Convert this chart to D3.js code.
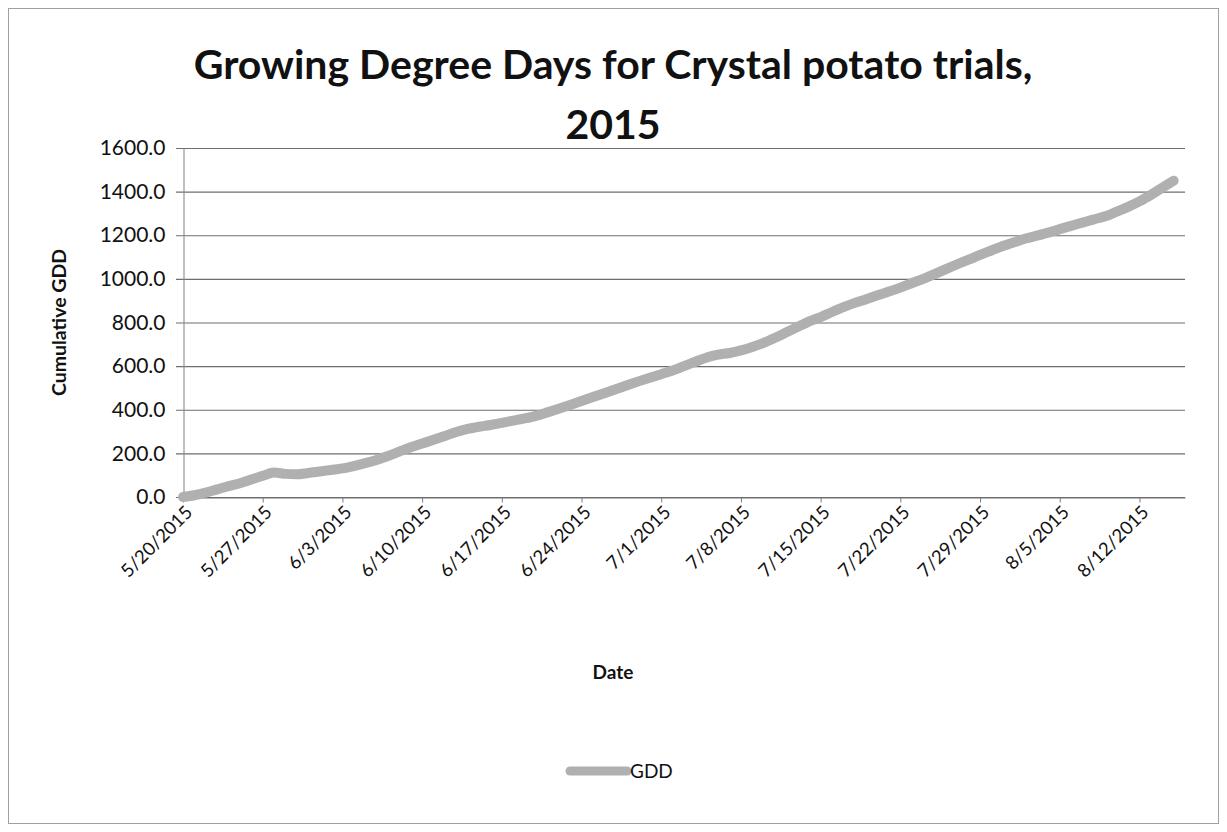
<!DOCTYPE html>
<html><head><meta charset="utf-8">
<script src="https://cdn.jsdelivr.net/npm/d3@7"></script>
<style>
html,body{margin:0;padding:0;background:#fff;}
svg{display:block;}
</style>
</head><body>
<svg id="chart" width="1227" height="832"></svg>
<script>
// ---- DATA ----
const startDate = "2015-05-20";
const endDate = "2015-08-15";
const gdd = [
  0, 8, 20, 35, 50, 63, 80, 97, 112, 106,
  104, 110, 117, 124, 131, 142, 155, 170, 188, 208,
  228, 245, 262, 280, 298, 312, 322, 330, 340, 350,
  360, 372, 388, 405, 422, 440, 458, 476, 494, 512,
  530, 547, 563, 580, 600, 620, 640, 653, 660, 672,
  688, 707, 730, 755, 780, 805, 825, 848, 870, 890,
  907, 925, 942, 960, 980, 1000, 1022, 1045, 1067, 1088,
  1110, 1130, 1151, 1168, 1185, 1198, 1212, 1228, 1243, 1258,
  1273, 1287, 1308, 1330, 1355, 1385, 1418, 1450
];
const xTickLabels = ["5/20/2015","5/27/2015","6/3/2015","6/10/2015","6/17/2015","6/24/2015","7/1/2015","7/8/2015","7/15/2015","7/22/2015","7/29/2015","8/5/2015","8/12/2015"];
const yTicks = [0,200,400,600,800,1000,1200,1400,1600];
const titleLines = ["Growing Degree Days for Crystal potato trials,","2015"];
const yTitle = "Cumulative GDD";
const xTitle = "Date";
const seriesName = "GDD";

// ---- BUILD ----
const parse = d3.timeParse("%Y-%m-%d");
const parseLbl = d3.timeParse("%m/%d/%Y");
const t0 = parse(startDate);
const dates = gdd.map((v,i)=> d3.timeDay.offset(t0, i));
const data = dates.map((d,i)=>({date:d, value:gdd[i]}));

const svg = d3.select("#chart");
const W = 1227, H = 832;
const font = "Lato, 'Open Sans', sans-serif";

svg.append("rect").attr("x",8.5).attr("y",8.5).attr("width",W-17).attr("height",H-17)
  .attr("fill","#fff").attr("stroke","#a0a0a0").attr("stroke-width",1);

const m = {left:183, right:1185, top:148, bottom:497};
const x = d3.scaleTime().domain([t0, d3.timeDay.offset(parse(endDate),1)]).range([m.left, m.right]);
const y = d3.scaleLinear().domain([0,1600]).range([m.bottom, m.top]);

// title
svg.append("g").selectAll("text").data(titleLines).join("text")
  .attr("x", 613).attr("y",(d,i)=> 79 + i*60)
  .attr("text-anchor","middle").attr("font-family",font).attr("font-weight","bold")
  .attr("font-size",41).attr("fill","#111").text(d=>d);

// gridlines
svg.append("g").selectAll("line").data(yTicks).join("line")
  .attr("x1", m.left-7).attr("x2", m.right)
  .attr("y1", d=>y(d)+0.5).attr("y2", d=>y(d)+0.5)
  .attr("stroke","#6e6e6e").attr("stroke-width",1.2);

// y axis
const yAxis = d3.axisLeft(y).tickValues(yTicks).tickFormat(d3.format(".1f")).tickSize(0).tickPadding(18);
const gy = svg.append("g").attr("transform",`translate(${m.left+0.5},0)`).call(yAxis);
gy.select(".domain").attr("stroke","#8a8a8a").attr("stroke-width",1.1);
gy.selectAll("text").attr("font-family",font).attr("font-size",21).attr("fill","#111");

// x axis
const tickDates = xTickLabels.map(s=>parseLbl(s));
const xAxis = d3.axisBottom(x).tickValues(tickDates).tickFormat((d,i)=>xTickLabels[i]).tickSize(5).tickSizeOuter(0);
const gx = svg.append("g").attr("transform",`translate(0,${m.bottom+0.5})`).call(xAxis);
gx.select(".domain").attr("stroke","#6e6e6e").attr("stroke-width",1.2);
gx.selectAll(".tick line").attr("stroke","#7a7a7a");
gx.selectAll("text").attr("font-family",font).attr("font-size",18.5).attr("fill","#111")
  .attr("text-anchor","end").attr("dy",0).attr("y",0)
  .attr("transform","translate(10,16) rotate(-45)");

// axis titles
svg.append("text").attr("transform",`translate(66,${(m.top+m.bottom)/2}) rotate(-90)`)
  .attr("text-anchor","middle").attr("font-family",font).attr("font-weight","bold")
  .attr("font-size",19.5).attr("fill","#111").text(yTitle);
svg.append("text").attr("x",613).attr("y",679).attr("text-anchor","middle")
  .attr("font-family",font).attr("font-weight","bold").attr("font-size",19).attr("fill","#111").text(xTitle);

// line
const line = d3.line().x(d=>x(d.date)).y(d=>y(d.value)).curve(d3.curveMonotoneX);
svg.append("path").datum(data).attr("d",line).attr("fill","none")
  .attr("stroke","#b0b0b0").attr("stroke-width",10).attr("stroke-linecap","round").attr("stroke-linejoin","round");

// legend
const lg = svg.append("g").attr("transform","translate(570,771)");
lg.append("line").attr("x1",0).attr("x2",57).attr("y1",0).attr("y2",0)
  .attr("stroke","#b0b0b0").attr("stroke-width",9).attr("stroke-linecap","round");
lg.append("text").attr("x",60).attr("y",7).attr("font-family",font).attr("font-size",19).attr("fill","#111").text(seriesName);
</script>
</body></html>
